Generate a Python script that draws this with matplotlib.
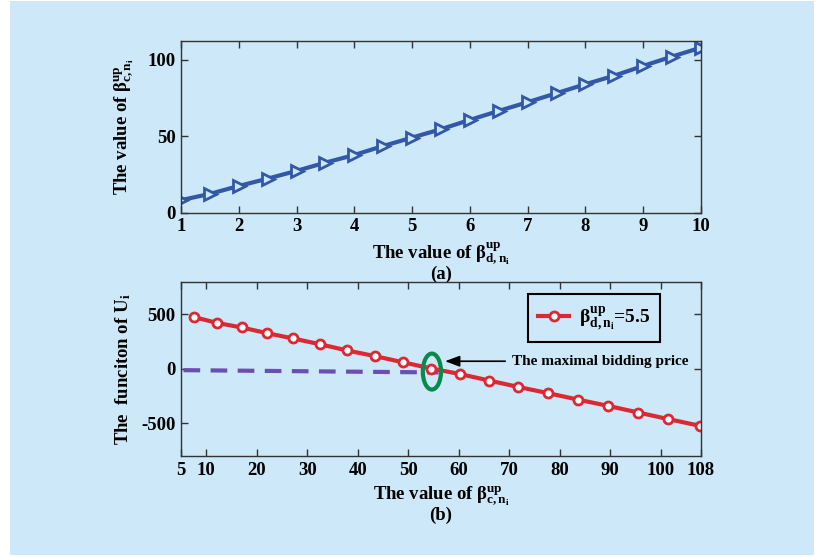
import numpy as np
import matplotlib
matplotlib.use("Agg")
import matplotlib.pyplot as plt
from matplotlib.patches import Ellipse, Rectangle

# (a) beta_c upper bound vs beta_d upper bound
beta_d = [1, 1.5, 2, 2.5, 3, 3.5, 4, 4.5, 5, 5.5, 6, 6.5, 7, 7.5, 8, 8.5, 9, 9.5, 10]
beta_c = [8.1, 12.2, 17.4, 22.2, 27.3, 32.7, 37.7, 43.6, 49.1, 54.6,
          60.7, 66.6, 72.3, 78.2, 84.1, 89.7, 96.1, 102.2, 108.1]

# (b) utility U_i vs beta_c, beta_d = 5.5
u_x = [7.5, 12.1, 17.0, 22.0, 27.1, 32.5, 37.9, 43.4, 49.0, 54.6,
       60.3, 66.1, 71.8, 77.7, 83.7, 89.6, 95.6, 101.5, 107.9]
u_y = [476, 422, 380, 328, 280, 226, 169, 117, 60, 3,
       -48, -108, -166, -223, -283, -340, -401, -461, -524]
dash_x = [5.5, 56]
dash_y = [-12, -33]

top_xticks = list(range(1, 11))
bot_xticks = [5, 10, 20, 30, 40, 50, 60, 70, 80, 90, 100, 108]

BG = "#cde8f8"

plt.rcParams["font.family"] = ["Liberation Serif", "DejaVu Serif"]
plt.rcParams["font.weight"] = "bold"
plt.rcParams["axes.unicode_minus"] = False
plt.rcParams["mathtext.fontset"] = "custom"
plt.rcParams["mathtext.rm"] = "Liberation Serif:bold"
plt.rcParams["mathtext.it"] = "Liberation Serif:bold"
plt.rcParams["mathtext.bf"] = "Liberation Serif:bold"

fig = plt.figure(figsize=(8.23, 5.57), dpi=100)
fig.patch.set_facecolor("white")
fig.patches.append(Rectangle((10 / 823, 2 / 557), 804 / 823, 554 / 557,
                             transform=fig.transFigure, facecolor=BG,
                             edgecolor="none", zorder=-10))


def style(ax):
    ax.set_facecolor(BG)
    ax.tick_params(direction="in", top=True, right=True, length=5,
                   width=1, labelsize=13.5, pad=4, color="#333333")
    for s in ax.spines.values():
        s.set_color("#333333")
        s.set_linewidth(1)
    for lbl in ax.get_xticklabels() + ax.get_yticklabels():
        lbl.set_fontweight("bold")


# top panel
ax1 = fig.add_axes([181 / 823, 1 - 212.5 / 557, 520 / 823, 171.8 / 557])
ax1.plot(beta_d, beta_c, color="#3358a8", lw=3, marker=">", ms=8,
         mfc=BG, mec="#3358a8", mew=2)
ax1.set_xlim(1, 10)
ax1.set_ylim(0, 112.6)
ax1.set_xticks(top_xticks)
ax1.set_yticks([0, 50, 100])
style(ax1)
ax1.set_xlabel("The value of β$^{up}_{d,n_{i}}$\n(a)", fontsize=13.5,
               fontweight="bold", linespacing=0.9, labelpad=4)
ax1.set_ylabel("The value of β$^{up}_{c,n_{i}}$", fontsize=13.5,
               fontweight="bold", labelpad=8)

# bottom panel
ax2 = fig.add_axes([181 / 823, 1 - 456 / 557, 520 / 823, 174.3 / 557])
ax2.plot(dash_x, dash_y, color="#6a4fb0", lw=3, ls=(0, (4, 2.5)))
ax2.plot(u_x, u_y, color="#dc2832", lw=3, marker="o", ms=6.5,
         mfc="white", mec="#dc2832", mew=2,
         label="β$^{up}_{d,n_{i}}$=5.5")
ax2.add_patch(Ellipse((54.7, -25), 3.6, 330, fill=False,
                      edgecolor="#0a8a4a", lw=3, zorder=5))
ax2.annotate("The maximal bidding price", xy=(57.3, 70), xytext=(70.6, 70),
             fontsize=11, fontweight="bold", va="center", ha="left",
             arrowprops=dict(arrowstyle="-|>,head_length=0.8,head_width=0.3",
                             color="black", lw=1.2, shrinkA=3, shrinkB=0))
ax2.set_xlim(5, 108)
ax2.set_ylim(-800, 800)
ax2.set_xticks(bot_xticks)
ax2.set_yticks([-500, 0, 500])
style(ax2)
ax2.set_xlabel("The value of β$^{up}_{c,n_{i}}$\n(b)", fontsize=13.5,
               fontweight="bold", linespacing=0.9, labelpad=4)
ax2.set_ylabel("The  funciton of U$_{i}$", fontsize=13.5,
               fontweight="bold", labelpad=6)
leg = ax2.legend(loc="upper right", fontsize=14, frameon=True, fancybox=False,
                 handlelength=1.6, handletextpad=0.5, borderpad=0.5,
                 bbox_to_anchor=(0.94, 0.985))
leg.get_frame().set_edgecolor("black")
leg.get_frame().set_linewidth(1.5)
leg.get_frame().set_facecolor(BG)
leg.get_frame().set_alpha(1)

fig.savefig("out.png", dpi=100, facecolor=fig.get_facecolor())
